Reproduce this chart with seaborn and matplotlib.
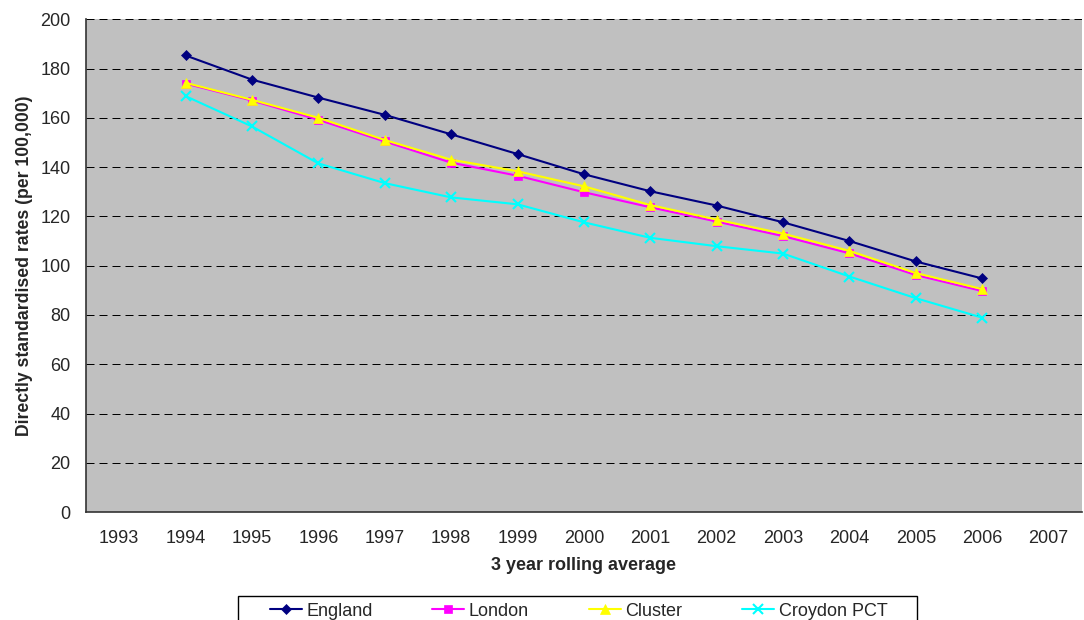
import pandas as pd
import numpy as np
import matplotlib.pyplot as plt
import seaborn as sns
from matplotlib.patches import Rectangle

# category axis (Excel style: labels between tick marks)
years = ['1993', '1994', '1995', '1996', '1997', '1998', '1999', '2000',
         '2001', '2002', '2003', '2004', '2005', '2006', '2007']
data_years = years[1:14]

england = [185.3, 175.5, 168.2, 161.2, 153.3, 145.3, 137.1, 130.2, 124.4, 117.6, 110.0, 101.7, 94.8]
london = [173.9, 167.0, 159.2, 150.4, 141.8, 136.5, 129.8, 123.7, 117.9, 112.0, 105.0, 96.2, 89.7]
cluster = [174.2, 167.3, 160.0, 151.0, 143.0, 138.3, 132.2, 124.6, 118.7, 113.0, 106.0, 97.0, 90.5]
croydon = [168.8, 156.5, 141.5, 133.5, 127.7, 124.9, 117.6, 111.3, 107.9, 104.9, 95.6, 86.8, 78.9]

series = {'England': england, 'London': london, 'Cluster': cluster, 'Croydon PCT': croydon}
colours = {'England': '#000080', 'London': '#FF00FF', 'Cluster': '#FFFF00', 'Croydon PCT': '#00FFFF'}
markers = {'England': 'D', 'London': 's', 'Cluster': '^', 'Croydon PCT': 'x'}
msizes = {'England': 5.5, 'London': 6, 'Cluster': 7.5, 'Croydon PCT': 7}

rows = []
for name, vals in series.items():
    for y, v in zip(data_years, vals):
        rows.append({'Year': years.index(y), 'Rate': v, 'Area': name})
df = pd.DataFrame(rows)

sns.set_style('white')
plt.rcParams['font.family'] = ['Liberation Sans', 'DejaVu Sans']

fig = plt.figure(figsize=(10.84, 6.2), dpi=100)
ax = fig.add_axes([0.0793, 0.174, 0.9187, 0.795])
ax.set_facecolor('#C0C0C0')

for name in series:
    sub = df[df['Area'] == name]
    sns.lineplot(data=sub, x='Year', y='Rate', ax=ax, color=colours[name],
                 marker=markers[name], markersize=msizes[name], linewidth=1.5,
                 markeredgecolor=colours[name], markeredgewidth=1.5 if name == 'Croydon PCT' else 0.5,
                 label=name, legend=False)

ax.set_xlim(-0.5, len(years) - 0.5)
ax.set_ylim(0, 200)
ax.set_yticks(np.arange(0, 201, 20))
ax.set_xticks(np.arange(-0.5, len(years), 1))
ax.set_xticklabels([])
ax.set_xticks(np.arange(len(years)), minor=True)
ax.set_xticklabels(years, minor=True)
ax.tick_params(axis='x', which='major', length=5, direction='out', color='#333333', width=1)
ax.tick_params(axis='x', which='minor', length=0, labelsize=13, pad=13)
ax.tick_params(axis='y', length=5, direction='out', color='#333333', width=1, labelsize=13, pad=6)
ax.yaxis.grid(True, color='black', linestyle=(0, (8, 5)), linewidth=0.72)
ax.set_axisbelow(True)

for s in ['top', 'right']:
    ax.spines[s].set_visible(False)
for s in ['left', 'bottom']:
    ax.spines[s].set_color('#333333')
    ax.spines[s].set_linewidth(1.2)

ax.set_xlabel('3 year rolling average', fontsize=13, fontweight='bold', labelpad=7)
ax.set_ylabel('Directly standardised rates (per 100,000)', fontsize=12.7, fontweight='bold', labelpad=5)

handles, labels = ax.get_legend_handles_labels()
leg = fig.legend(handles, labels, loc='center', bbox_to_anchor=(0.5337, 0.0145), ncol=4,
                 frameon=False, fontsize=13, handlelength=1.78, handletextpad=0.25,
                 columnspacing=3.3, borderpad=0)
# Excel-style legend box, cut off by the bottom edge
fig.patches.append(Rectangle((238 / 1084, -0.02), (917 - 238) / 1084, 0.02 + 24 / 620,
                             transform=fig.transFigure, fill=False, edgecolor='black',
                             linewidth=1))

fig.savefig('out.png', dpi=100)
